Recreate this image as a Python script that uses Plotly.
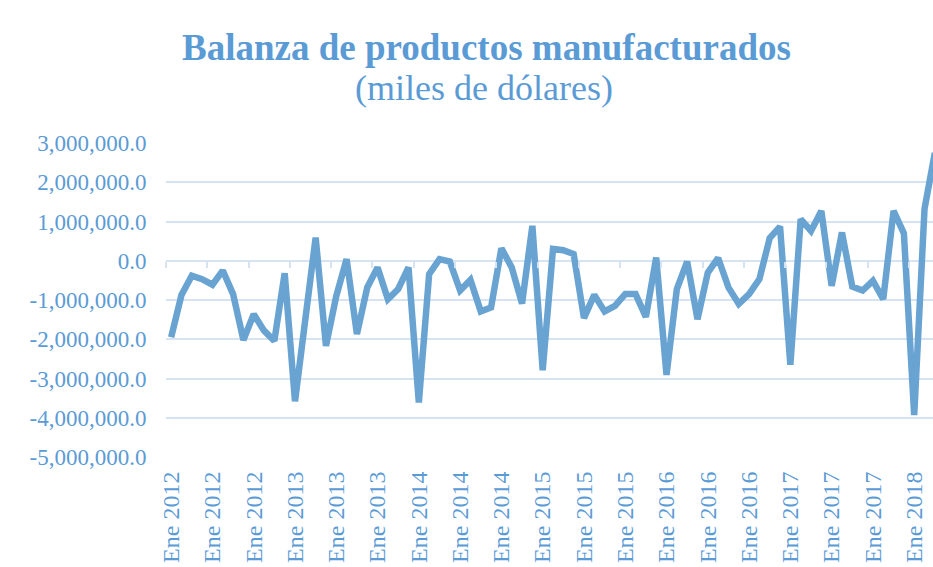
import plotly.graph_objects as go

# ---- data (miles de dólares) ----
month_names = ["Ene", "Feb", "Mar", "Abr", "May", "Jun", "Jul", "Ago", "Sep", "Oct", "Nov", "Dic"]
years = [2012, 2013, 2014, 2015, 2016, 2017, 2018]
months = [f"{m} {y}" for y in years for m in month_names][:75]

balance = [
    -1950000, -870000, -380000, -470000, -610000, -250000, -850000, -2020000, -1360000, -1780000,
    -2040000, -320000, -3580000, -1500000, 590000, -2170000, -900000, 40000, -1870000, -680000,
    -170000, -980000, -720000, -170000, -3610000, -340000, 40000, -20000, -760000, -490000,
    -1290000, -1190000, 320000, -170000, -1090000, 890000, -2790000, 300000, 270000, 170000,
    -1460000, -870000, -1290000, -1150000, -850000, -850000, -1430000, 80000, -2910000, -720000,
    -20000, -1490000, -300000, 70000, -680000, -1100000, -850000, -470000, 580000, 870000,
    -2650000, 1060000, 760000, 1270000, -640000, 720000, -660000, -760000, -510000, -980000,
    1270000, 700000, -3930000, 1320000, 2750000,
]

x_tick_positions = months[0:73:4]
x_tick_labels = [
    "Ene 2012", "Ene 2012", "Ene 2012",
    "Ene 2013", "Ene 2013", "Ene 2013",
    "Ene 2014", "Ene 2014", "Ene 2014",
    "Ene 2015", "Ene 2015", "Ene 2015",
    "Ene 2016", "Ene 2016", "Ene 2016",
    "Ene 2017", "Ene 2017", "Ene 2017",
    "Ene 2018",
]

y_tick_values = [3000000, 2000000, 1000000, 0, -1000000, -2000000, -3000000, -4000000, -5000000]
y_tick_labels = [
    "3,000,000.0", "2,000,000.0", "1,000,000.0", "0.0", "-1,000,000.0",
    "-2,000,000.0", "-3,000,000.0", "-4,000,000.0", "-5,000,000.0",
]

title_line1 = "Balanza de productos manufacturados"
title_line2 = "(miles de dólares)"

# ---- style ----
TEXT_BLUE = "#5B9BD5"
LINE_BLUE = "#69A3D2"
GRID = "#D6E4F1"
FONT = "Liberation Serif"

fig = go.Figure()
fig.add_trace(go.Scatter(
    x=months, y=balance, mode="lines",
    line=dict(color=LINE_BLUE, width=6.5, shape="linear"),
    hoverinfo="skip", showlegend=False,
))

W, H = 933, 567
ml, mr, mt, mb = 166, 0, 143, 110
plot_w = W - ml - mr
cat_w = 10.32
x_end = -0.5 + plot_w / cat_w

fig.update_layout(
    width=W, height=H,
    margin=dict(l=ml, r=mr, t=mt, b=mb, pad=0, autoexpand=False),
    paper_bgcolor="white", plot_bgcolor="white",
    font=dict(family=FONT, color=TEXT_BLUE),
    xaxis=dict(
        type="category", categoryorder="array", categoryarray=months,
        range=[-0.5, x_end],
        tickmode="array", tickvals=x_tick_positions, ticktext=x_tick_labels,
        tickangle=-90, tickfont=dict(size=24, color=TEXT_BLUE, family=FONT),
        ticks="outside", ticklen=4, tickcolor="rgba(0,0,0,0)", automargin=False,
        showgrid=False, zeroline=False, showline=False,
    ),
    xaxis2=dict(
        overlaying="x", anchor="free", position=5 / 8,
        range=[-0.5, x_end], tickmode="linear", tick0=-0.5, dtick=4,
        ticks="outside", ticklen=6, tickwidth=1.5, tickcolor=GRID,
        showticklabels=False, showgrid=False, zeroline=False, showline=False,
    ),
    yaxis=dict(
        range=[-5000000, 3000000], automargin=False,
        tickmode="array", tickvals=y_tick_values, ticktext=y_tick_labels,
        tickfont=dict(size=23, color=TEXT_BLUE, family=FONT),
        ticks="outside", ticklen=14, tickcolor="rgba(0,0,0,0)",
        showgrid=True, gridcolor=GRID, gridwidth=2,
        zeroline=True, zerolinecolor=GRID, zerolinewidth=2,
        showline=False,
    ),
)

# invisible helper trace so the zero-line tick axis is drawn
fig.add_trace(go.Scatter(x=[0], y=[0], xaxis="x2", yaxis="y", mode="markers",
                         marker=dict(opacity=0), hoverinfo="skip", showlegend=False))

fig.add_annotation(
    text=f"<b>{title_line1}</b>", xref="paper", yref="paper",
    x=(486 - ml) / plot_w, y=1.305, xanchor="center", yanchor="middle",
    showarrow=False, font=dict(family=FONT, size=37, color=TEXT_BLUE),
)
fig.add_annotation(
    text=title_line2, xref="paper", yref="paper",
    x=(484 - ml) / plot_w, y=1.175, xanchor="center", yanchor="middle",
    showarrow=False, font=dict(family=FONT, size=36, color=TEXT_BLUE),
)

fig.write_html(
    "out.html",
    config={"displayModeBar": False},
    post_script="document.body.style.margin='0';document.body.style.overflow='hidden';",
)
